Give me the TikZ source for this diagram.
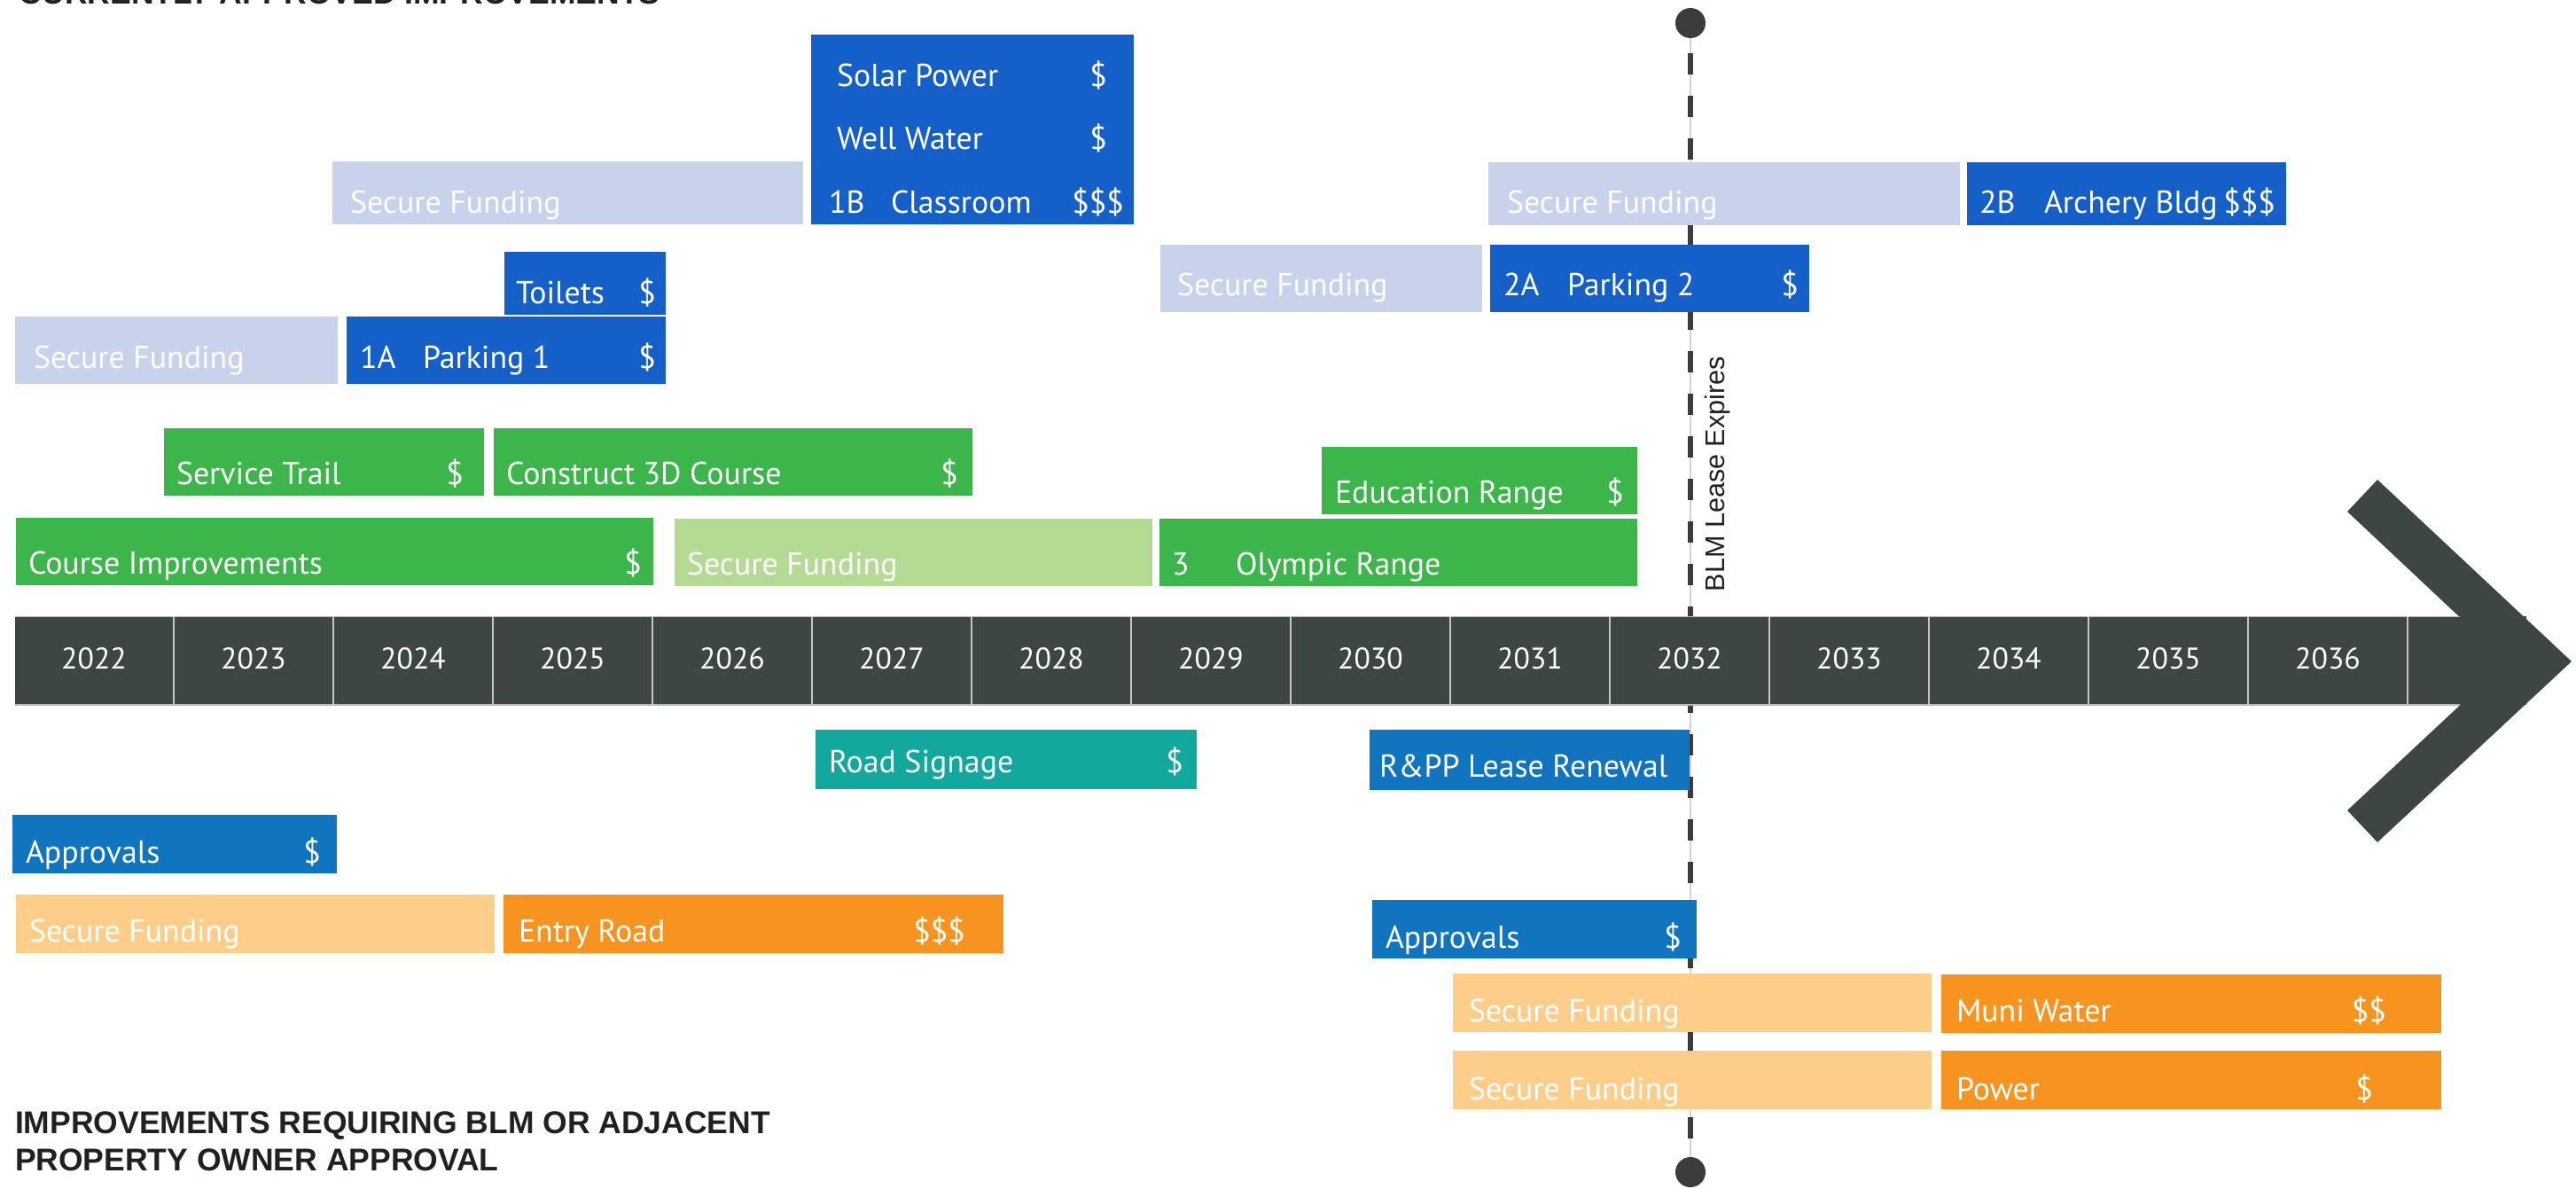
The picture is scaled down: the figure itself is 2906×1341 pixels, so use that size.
\documentclass[tikz,border=0pt]{standalone}
\usepackage{fontspec}
\setmainfont{PT Sans}
\newfontfamily\hfont{Liberation Sans}
\definecolor{dkblue}{HTML}{1560C8}
\definecolor{lav}{HTML}{C9D2EB}
\definecolor{grn}{HTML}{3CB54A}
\definecolor{ltgrn}{HTML}{B5DA94}
\definecolor{teal2}{HTML}{13A89E}
\definecolor{mdblue}{HTML}{1174BE}
\definecolor{orng}{HTML}{F7941F}
\definecolor{ltorng}{HTML}{FDCE8A}
\definecolor{barc}{HTML}{3D4643}
\definecolor{inkc}{HTML}{231F20}
\definecolor{dotc}{HTML}{3C3C3C}
\newcommand{\tbox}[6]{%
  \pgfmathsetmacro\bw{(#5-#3)*0.1}%
  \pgfmathsetmacro\bh{(#6-#4)*0.1}%
  \node[boxst, fill=#2, minimum width=\bw mm, minimum height=\bh mm] (#1) at ({(#3+#5)/2},{(#4+#6)/2}) {};}
\newcommand{\lbL}[4]{\node[lbl, anchor=base west] (#1) at (#2,#3) {#4};}
\newcommand{\lbR}[4]{\node[lbl, anchor=base east] (#1) at (#2,#3) {#4};}
\begin{document}
\begin{tikzpicture}[x=0.1mm,y=-0.1mm,
  boxst/.style={rectangle, inner sep=0pt, outer sep=0pt, draw=none},
  lbl/.style={inner sep=0pt, outer sep=0pt, text=white, font=\fontsize{10.2pt}{12pt}\selectfont},
  yearst/.style={inner sep=0pt, outer sep=0pt, anchor=base, text=white, font=\fontsize{9.6pt}{11pt}\selectfont},
  headst/.style={inner sep=0pt, outer sep=0pt, anchor=base west, text=inkc, font=\hfont\bfseries\fontsize{10.1pt}{12pt}\selectfont},
  dotst/.style={circle, fill=dotc, draw=none, minimum size=3.4mm, inner sep=0pt, outer sep=0pt},
  thinline/.style={draw=gray!35, line width=0.12mm},
  dashline/.style={draw=dotc, line width=0.6mm, dash pattern=on 2.4mm off 2.4mm, dash phase=3.1mm},
  divst/.style={draw=gray!45, line width=0.18mm},
  edgest/.style={draw=gray!55, line width=0.15mm}]
\useasboundingbox (0,0) rectangle (2906,1341);

% headings
\node[headst] (head1) at (22,4) {CURRENTLY APPROVED IMPROVEMENTS};
\node[headst] (head2) at (17,1278) {IMPROVEMENTS REQUIRING BLM OR ADJACENT};
\node[headst] (head3) at (17,1320) {PROPERTY OWNER APPROVAL};

% lease line
\node[dotst] (topdot) at (1907,26) {};
\node[dotst] (botdot) at (1907,1322) {};
\draw[thinline] (topdot.south) -- (botdot.north);
\draw[dashline] (topdot.south) -- (botdot.north);
\node[rotate=90, anchor=base west, inner sep=0pt, text=inkc, font=\hfont\fontsize{8.7pt}{10pt}\selectfont] (blm) at (1945,668) {BLM Lease Expires};

% top rows
\tbox{sf1b}{lav}{375}{182}{906}{253}
\lbL{sf1bt}{395}{240}{Secure Funding}
\tbox{b1b}{dkblue}{915}{39}{1279}{253}
\lbL{solar}{944}{97}{Solar Power}
\lbR{solard}{1249}{97}{\$}
\lbL{well}{944}{168}{Well Water}
\lbR{welld}{1249}{168}{\$}
\lbL{n1b}{935}{240}{1B}
\lbL{cls}{1005}{240}{Classroom}
\lbR{clsd}{1268}{240}{\$\$\$}

\tbox{toil}{dkblue}{569}{284}{751}{355}
\lbL{toilt}{582}{342}{Toilets}
\lbR{toild}{740}{342}{\$}
\tbox{sf1a}{lav}{17}{357}{381}{433}
\lbL{sf1at}{38}{415}{Secure Funding}
\tbox{b1a}{dkblue}{391}{357}{751}{433}
\lbL{n1a}{406}{415}{1A}
\lbL{park1}{477}{415}{Parking 1}
\lbR{park1d}{740}{415}{\$}

\tbox{sf2a}{lav}{1309}{276}{1672}{352}
\lbL{sf2at}{1328}{333}{Secure Funding}
\tbox{b2a}{dkblue}{1681}{276}{2041}{352}
\lbL{n2a}{1696}{333}{2A}
\lbL{park2}{1768}{333}{Parking 2}
\lbR{park2d}{2029}{333}{\$}

\tbox{sf2b}{lav}{1679}{183}{2211}{254}
\lbL{sf2bt}{1700}{240}{Secure Funding}
\tbox{b2b}{dkblue}{2219}{183}{2579}{254}
\lbL{n2b}{2233}{240}{2B}
\lbL{arch}{2306}{240}{Archery Bldg}
\lbR{archd}{2567}{240}{\$\$\$}

% green rows
\tbox{svc}{grn}{185}{483}{546}{559}
\lbL{svct}{199}{546}{Service Trail}
\lbR{svcd}{523}{546}{\$}
\tbox{c3d}{grn}{557}{483}{1097}{559}
\lbL{c3dt}{571}{546}{Construct 3D Course}
\lbR{c3dd}{1081}{546}{\$}
\tbox{edu}{grn}{1491}{504}{1847}{580}
\lbL{edut}{1506}{567}{Education Range}
\lbR{edud}{1832}{567}{\$}
\tbox{crs}{grn}{18}{584}{737}{660}
\lbL{crst}{32}{647}{Course Improvements}
\lbR{crsd}{724}{647}{\$}
\tbox{sfg}{ltgrn}{761}{585}{1300}{661}
\lbL{sfgt}{775}{648}{Secure Funding}
\tbox{oly}{grn}{1308}{585}{1847}{661}
\lbL{n3}{1322}{648}{3}
\lbL{olyt}{1394}{648}{Olympic Range}

% timeline
\fill[barc] (17,695) rectangle (2850,795);
\fill[barc] (2682,541) -- (2901,746) -- (2682,950) -- (2648,914) -- (2828,746) -- (2648,577) -- cycle;
\draw[edgest] (17,695.5) -- (2775,695.5);
\draw[edgest] (17,795) -- (2775,795);
\foreach \i in {0,...,14} {
  \pgfmathsetmacro\dx{196+180*\i}
  \draw[divst] (\dx,695) -- (\dx,795);
  \pgfmathtruncatemacro\yr{2022+\i}
  \pgfmathsetmacro\cx{106+180*\i}
  \node[yearst] (y\yr) at (\cx,754) {\yr};
}

% lower rows
\tbox{sign}{teal2}{920}{823}{1350}{890}
\lbL{signt}{935}{871}{Road Signage}
\lbR{signd}{1335}{871}{\$}
\tbox{rpp}{mdblue}{1545}{823}{1906}{891}
\lbL{rppt}{1556}{876}{R\&PP Lease Renewal}
\tbox{appl}{mdblue}{14}{919}{380}{985}
\lbL{applt}{29}{973}{Approvals}
\lbR{appld}{362}{973}{\$}
\tbox{sfo}{ltorng}{18}{1009}{558}{1075}
\lbL{sfot}{33}{1062}{Secure Funding}
\tbox{entry}{orng}{568}{1009}{1132}{1075}
\lbL{entryt}{585}{1062}{Entry Road}
\lbR{entryd}{1089}{1062}{\$\$\$}
\tbox{appr}{mdblue}{1548}{1015}{1914}{1081}
\lbL{apprt}{1563}{1069}{Approvals}
\lbR{apprd}{1897}{1069}{\$}
\tbox{sfo1}{ltorng}{1639}{1098}{2179}{1164}
\lbL{sfo1t}{1657}{1152}{Secure Funding}
\tbox{muni}{orng}{2190}{1099}{2754}{1165}
\lbL{munit}{2207}{1152}{Muni Water}
\lbR{munid}{2692}{1152}{\$\$}
\tbox{sfo2}{ltorng}{1639}{1185}{2179}{1251}
\lbL{sfo2t}{1657}{1240}{Secure Funding}
\tbox{pow}{orng}{2190}{1185}{2754}{1251}
\lbL{powt}{2207}{1240}{Power}
\lbR{powd}{2677}{1240}{\$}
\end{tikzpicture}
\end{document}
